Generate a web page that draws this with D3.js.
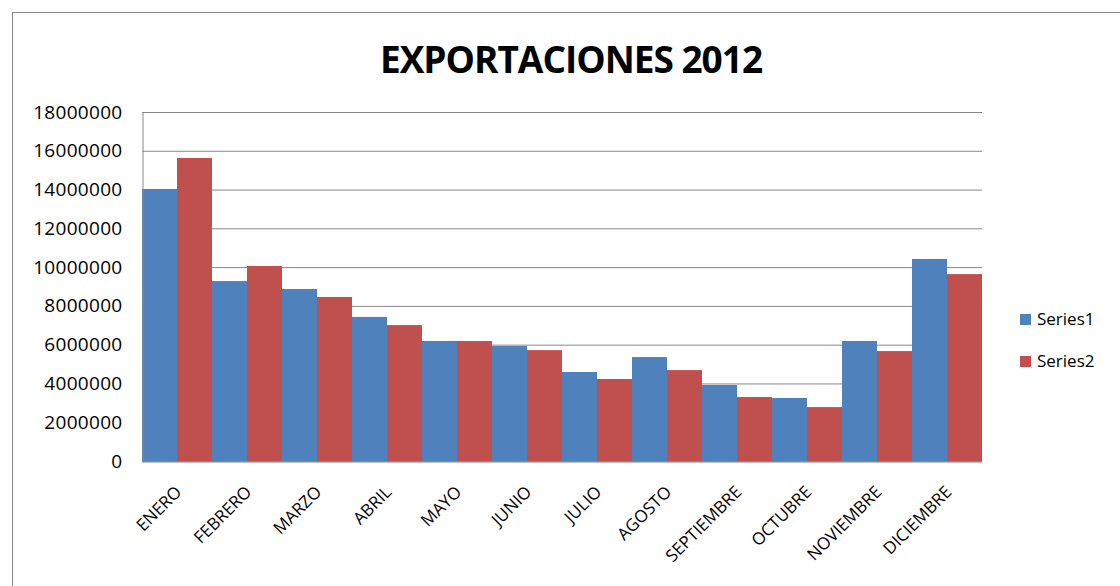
<!DOCTYPE html>
<html>
<head>
<meta charset="utf-8">
<script src="https://cdnjs.cloudflare.com/ajax/libs/d3/7.8.5/d3.min.js"></script>
<style>
body { margin: 0; background: #fff; }
text { font-family: "Open Sans", "Liberation Sans", sans-serif; fill: #000; }
</style>
</head>
<body>
<script>
var months = ["ENERO", "FEBRERO", "MARZO", "ABRIL", "MAYO", "JUNIO", "JULIO", "AGOSTO", "SEPTIEMBRE", "OCTUBRE", "NOVIEMBRE", "DICIEMBRE"];
var series1 = [14030000, 9280000, 8870000, 7430000, 6190000, 5930000, 4590000, 5360000, 3920000, 3250000, 6190000, 10420000];
var series2 = [15630000, 10060000, 8460000, 7010000, 6190000, 5720000, 4230000, 4690000, 3300000, 2780000, 5670000, 9640000];
var seriesNames = ["Series1", "Series2"];
var colors = ["#4F81BD", "#C0504D"];
var yTicks = [0, 2000000, 4000000, 6000000, 8000000, 10000000, 12000000, 14000000, 16000000, 18000000];

var w = 1120, h = 586;
var svg = d3.select("body").append("svg").attr("width", w).attr("height", h);

//chart frame
svg.append("rect").attr("x", 12.5).attr("y", 12.5).attr("width", 1120).attr("height", 600)
    .style("fill", "none").style("stroke", "#888");

var x0 = d3.scaleBand().domain(months).range([142, 982]).padding(0);
var x1 = d3.scaleBand().domain(seriesNames).range([0, x0.bandwidth()]);
var y = d3.scaleLinear().domain([0, 18000000]).range([461, 112]);

//gridlines
svg.selectAll(".grid").data(yTicks).enter().append("line")
    .attr("x1", 142).attr("x2", 982)
    .attr("y1", function(d){ return y(d) + 0.5; })
    .attr("y2", function(d){ return y(d) + 0.5; })
    .style("stroke", "#888");

var groups = svg.selectAll(".grp").data(months).enter().append("g")
    .attr("transform", function(d){ return "translate(" + x0(d) + ",0)"; });

groups.selectAll("rect").data(function(d, i){
        return [{s: "Series1", v: series1[i], c: colors[0]}, {s: "Series2", v: series2[i], c: colors[1]}];
    }).enter().append("rect")
    .attr("x", function(d){ return x1(d.s); })
    .attr("width", x1.bandwidth())
    .attr("y", function(d){ return y(d.v); })
    .attr("height", function(d){ return y(0) - y(d.v); })
    .style("fill", function(d){ return d.c; });

//y axis
var yAxis = svg.append("g").attr("transform", "translate(142.5,0)")
    .call(d3.axisLeft(y).tickValues(yTicks).tickSize(0).tickPadding(20).tickFormat(d3.format("d")));
yAxis.select(".domain").style("stroke", "#888");
yAxis.selectAll("text").style("font-size", "19px").style("letter-spacing", "0.3px");

//x axis
var xAxis = svg.append("g").attr("transform", "translate(0,461.5)")
    .call(d3.axisBottom(x0).tickSize(0).tickPadding(10));
xAxis.select(".domain").style("stroke", "#888");
xAxis.selectAll("text").style("font-size", "17px")
    .attr("text-anchor", "end")
    .attr("transform", "translate(-10,16) rotate(-45)");

//title
svg.append("text").attr("x", 571).attr("y", 73).attr("text-anchor", "middle")
    .style("font-size", "37px").style("font-weight", "bold").style("letter-spacing", "-1px")
    .text("EXPORTACIONES 2012");

//legend
var legend = svg.selectAll(".legend").data(seriesNames).enter().append("g")
    .attr("transform", function(d, i){ return "translate(1020," + (314 + i * 42) + ")"; });
legend.append("rect").attr("width", 11).attr("height", 11)
    .style("fill", function(d, i){ return colors[i]; });
legend.append("text").attr("x", 17).attr("y", 11).style("font-size", "17px")
    .text(function(d){ return d; });
</script>
</body>
</html>
